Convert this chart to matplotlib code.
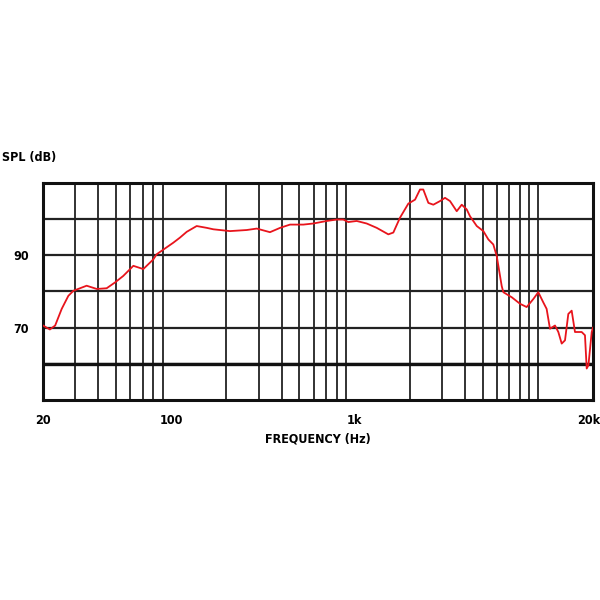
import numpy as np
import matplotlib
matplotlib.use("Agg")
import matplotlib.pyplot as plt
import matplotlib.transforms as mtransforms

# frequency response (Hz, dB)
freq = [20, 21.8, 23.3, 25.3, 27.5, 29.3, 34.6, 39.3, 44.5, 49.4, 54.8, 62.2, 70.5,
        80, 83.4, 102.8, 111.7, 121.6, 137.8, 156.3, 169.9, 209.4, 258.4, 293, 346,
        393, 445, 526, 596, 706, 800, 869, 925, 1028, 1166, 1322, 1530, 1629, 1771,
        1967, 2140, 2277, 2373, 2529, 2692, 2928, 3118, 3320, 3612, 3846, 4094, 4268,
        4645, 5046, 5372, 5718, 5970, 6355, 6488, 7212, 8000, 8694, 9446, 10060,
        10710, 11170, 11650, 12410, 12940, 13500, 14070, 14670, 15300, 15950, 17350,
        18080, 18480, 18880, 19680, 20000]
spl = [70.6, 69.5, 70.6, 75.2, 78.8, 80.2, 81.6, 80.7, 80.9, 82.5, 84.3, 87.1, 86.2,
       88.9, 90.3, 93.5, 94.9, 96.5, 98.1, 97.6, 97.2, 96.7, 97.0, 97.4, 96.4,
       97.6, 98.5, 98.5, 98.8, 99.5, 99.9, 99.9, 99.2, 99.5, 98.8, 97.6, 95.8, 96.3, 100.4,
       104.3, 105.4, 108.2, 108.2, 104.5, 104.0, 105.0, 105.9, 105.0, 102.2, 104.0, 102.7, 100.8,
       98.1, 96.7, 94.4, 93.0, 89.8, 81.5, 79.8, 78.4, 76.6, 75.7, 77.9, 79.8,
       77.0, 75.2, 69.7, 70.6, 68.8, 65.6, 66.5, 73.8, 74.7, 68.8, 68.8,
       67.9, 58.7, 59.6, 68.8, 70.0]

grid_freqs = [f * m for m in (10, 100, 1000) for f in range(2, 10)] + [10000, 20000]
levels = [60, 70, 80, 90, 100]
xtick_vals = [20, 100, 1000, 20000]
xtick_labels = ["20", "100", "1k", "20k"]
ytick_vals = [70, 90]
ytick_labels = ["70", "90"]

fam = ["DejaVu Sans"]
txt = dict(family=fam, fontstretch="condensed", fontweight="bold", fontsize=9)

fig = plt.figure(figsize=(6, 6), dpi=100)
ax = fig.add_axes([43 / 600, 200 / 600, 550 / 600, 217 / 600])
ax.set_xscale("log")
ax.set_xlim(20, 20000)
ax.set_ylim(50, 110)

ax.vlines(grid_freqs, 50, 110, colors="#222222", lw=1.3, zorder=1)
ax.hlines(levels, 20, 20000, colors="#222222", lw=1.6, zorder=1)
ax.axhline(60, color="#111111", lw=2.4, zorder=1)

ax.plot(freq, spl, color="#e8141c", lw=1.3, zorder=3)

for s in ax.spines.values():
    s.set_linewidth(2.2)
    s.set_color("#111111")

ax.xaxis.set_minor_locator(matplotlib.ticker.NullLocator())
ax.set_xticks(xtick_vals)
ax.set_xticklabels(xtick_labels)
ax.set_yticks(ytick_vals)
ax.set_yticklabels(ytick_labels)
ax.tick_params(length=0, pad=10)
for lab in ax.get_xticklabels() + ax.get_yticklabels():
    lab.set(**txt)
last = ax.get_xticklabels()[-1]
last.set_ha("right")
last.set_transform(last.get_transform() +
                   mtransforms.ScaledTranslation(7 / 100, 0, fig.dpi_scale_trans))

ax.set_xlabel("FREQUENCY (Hz)", labelpad=4, **txt)
fig.text(2 / 600, 1 - 157 / 600, "SPL (dB)", va="center", ha="left", **txt)

fig.savefig("out.png", dpi=100, facecolor="white")
